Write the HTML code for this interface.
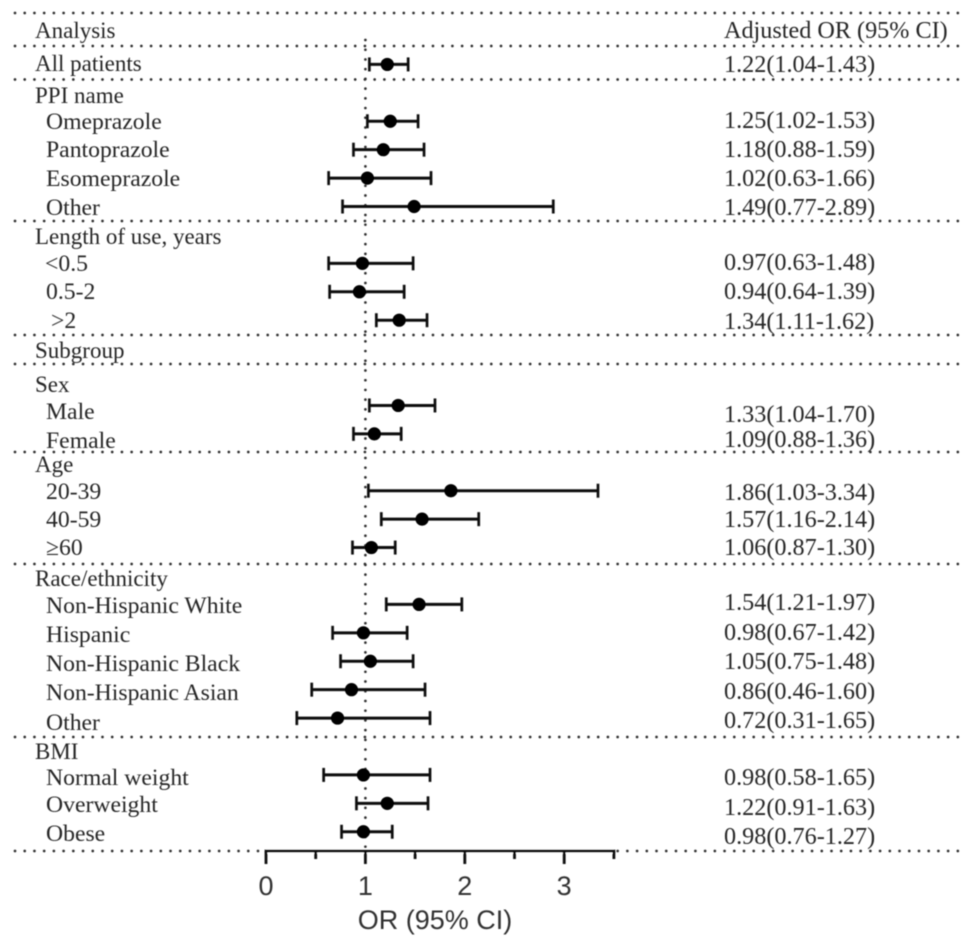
<!DOCTYPE html>
<html>
<head>
<meta charset="utf-8">
<style>
html,body{margin:0;padding:0;background:#fff;width:969px;height:944px;overflow:hidden}
svg{display:block}
.s{font-family:"Liberation Serif",serif;font-size:23.7px;fill:#262626}
text.s[x="35"]{font-size:23px}
.v{font-size:24.2px}
.a{font-family:"Liberation Sans",sans-serif;fill:#333}
.d{stroke:#333;stroke-width:2.7;stroke-linecap:round;stroke-dasharray:0 9.72}
</style>
</head>
<body>
<svg id="chart" width="969" height="944" viewBox="0 0 969 944">
<defs><filter id="soft" x="-5%" y="-5%" width="110%" height="110%"><feGaussianBlur stdDeviation="0.5"/></filter></defs>
<rect width="969" height="944" fill="#fff"/>
<g filter="url(#soft)">
<g id="seps">
<line class="d" x1="15" x2="958" y1="13" y2="13"/>
<line class="d" x1="15" x2="958" y1="46" y2="46"/>
<line class="d" x1="15" x2="958" y1="79.5" y2="79.5"/>
<line class="d" x1="15" x2="958" y1="221" y2="221"/>
<line class="d" x1="15" x2="958" y1="335" y2="335"/>
<line class="d" x1="15" x2="958" y1="364" y2="364"/>
<line class="d" x1="15" x2="958" y1="452" y2="452"/>
<line class="d" x1="15" x2="958" y1="564" y2="564"/>
<line class="d" x1="15" x2="958" y1="737" y2="737"/>
<line class="d" x1="15" x2="958" y1="851" y2="851"/>
</g>
<line id="ref" class="d" y1="40" y2="851"/>
<g id="marks"></g>
<g id="axis"></g>

<g transform="translate(0,1)">
<text class="s" x="35" y="37">Analysis</text>
<text class="s" x="35" y="70">All patients</text>
<text class="s" x="35" y="102">PPI name</text>
<text class="s" x="46" y="128">Omeprazole</text>
<text class="s" x="46" y="156">Pantoprazole</text>
<text class="s" x="46" y="185">Esomeprazole</text>
<text class="s" x="46" y="214">Other</text>
<text class="s" x="35" y="243">Length of use, years</text>
<text class="s" x="45" y="270">&lt;0.5</text>
<text class="s" x="46" y="298">0.5-2</text>
<text class="s" x="51" y="327">&gt;2</text>
<text class="s" x="35" y="357">Subgroup</text>
<text class="s" x="35" y="391">Sex</text>
<text class="s" x="46" y="418">Male</text>
<text class="s" x="46" y="447">Female</text>
<text class="s" x="35" y="471">Age</text>
<text class="s" x="46" y="498">20-39</text>
<text class="s" x="46" y="526">40-59</text>
<text class="s" x="46" y="554">≥60</text>
<text class="s" x="35" y="585">Race/ethnicity</text>
<text class="s" x="46" y="612">Non-Hispanic White</text>
<text class="s" x="46" y="641">Hispanic</text>
<text class="s" x="46" y="670">Non-Hispanic Black</text>
<text class="s" x="46" y="699">Non-Hispanic Asian</text>
<text class="s" x="46" y="729">Other</text>
<text class="s" x="35" y="758">BMI</text>
<text class="s" x="46" y="784">Normal weight</text>
<text class="s" x="46" y="811">Overweight</text>
<text class="s" x="46" y="840">Obese</text>
</g>

<g transform="translate(0,1)">
<text class="s v" x="724" y="37">Adjusted OR (95% CI)</text>
<text class="s v" x="724" y="71">1.22(1.04-1.43)</text>
<text class="s v" x="724" y="127">1.25(1.02-1.53)</text>
<text class="s v" x="724" y="156">1.18(0.88-1.59)</text>
<text class="s v" x="724" y="185">1.02(0.63-1.66)</text>
<text class="s v" x="724" y="214">1.49(0.77-2.89)</text>
<text class="s v" x="724" y="269">0.97(0.63-1.48)</text>
<text class="s v" x="724" y="298">0.94(0.64-1.39)</text>
<text class="s v" x="724" y="328">1.34(1.11-1.62)</text>
<text class="s v" x="724" y="421">1.33(1.04-1.70)</text>
<text class="s v" x="724" y="446">1.09(0.88-1.36)</text>
<text class="s v" x="724" y="499">1.86(1.03-3.34)</text>
<text class="s v" x="724" y="526">1.57(1.16-2.14)</text>
<text class="s v" x="724" y="554">1.06(0.87-1.30)</text>
<text class="s v" x="724" y="609">1.54(1.21-1.97)</text>
<text class="s v" x="724" y="639">0.98(0.67-1.42)</text>
<text class="s v" x="724" y="668">1.05(0.75-1.48)</text>
<text class="s v" x="724" y="698">0.86(0.46-1.60)</text>
<text class="s v" x="724" y="727">0.72(0.31-1.65)</text>
<text class="s v" x="724" y="784">0.98(0.58-1.65)</text>
<text class="s v" x="724" y="814">1.22(0.91-1.63)</text>
<text class="s v" x="724" y="843">0.98(0.76-1.27)</text>
</g>

<text class="a" x="435" y="929" text-anchor="middle" font-size="27">OR (95% CI)</text>
</g>
</svg>
<script>
// One entry per table row, top to bottom; null marks a header row with no estimate.
var oddsRatio = [null,1.22,null,1.25,1.18,1.02,1.49,null,0.97,0.94,1.34,null,null,1.33,1.09,null,1.86,1.57,1.06,null,1.54,0.98,1.05,0.86,0.72,null,0.98,1.22,0.98];
var ciLower   = [null,1.04,null,1.02,0.88,0.63,0.77,null,0.63,0.64,1.11,null,null,1.04,0.88,null,1.03,1.16,0.87,null,1.21,0.67,0.75,0.46,0.31,null,0.58,0.91,0.76];
var ciUpper   = [null,1.43,null,1.53,1.59,1.66,2.89,null,1.48,1.39,1.62,null,null,1.70,1.36,null,3.34,2.14,1.30,null,1.97,1.42,1.48,1.60,1.65,null,1.65,1.63,1.27];
var majorTicks = [0,1,2,3];
var minorTicks = [0.5,1.5,2.5,3.5];
var axisMax = 3.5;
var referenceOR = 1;

var NS = 'http://www.w3.org/2000/svg';
function xScale(v){ return 266 + v * 99.4; }
function yScale(i){ return 36 + i * 28.42; }
function add(parent, tag, attrs){
  var el = document.createElementNS(NS, tag);
  for (var k in attrs) el.setAttribute(k, attrs[k]);
  parent.appendChild(el);
  return el;
}
var marks = document.getElementById('marks');
var axis = document.getElementById('axis');
var ref = document.getElementById('ref');
ref.setAttribute('x1', xScale(referenceOR));
ref.setAttribute('x2', xScale(referenceOR));

oddsRatio.forEach(function(v, i){
  if (v === null) return;
  var y = yScale(i);
  var g = add(marks, 'g', {});
  
  
  var ci = add(g, 'line', {x1: xScale(ciLower[i]), x2: xScale(ciUpper[i]), y1: y, y2: y, stroke: '#111', 'stroke-width': 3});
  
  
  [ciLower[i], ciUpper[i]].forEach(function(c){
    var cap = add(g, 'line', {x1: xScale(c), x2: xScale(c), y1: y - 7, y2: y + 7, stroke: '#111', 'stroke-width': 2.7});
    
    
  });
  var dot = add(g, 'circle', {cx: xScale(v), cy: y, r: 6.6, fill: '#000'});
  
  
});

var axisY = 851;
var axisBg = add(axis, 'line', {x1: xScale(0), x2: xScale(axisMax), y1: axisY, y2: axisY, stroke: '#fff', 'stroke-width': 5});


var axisLine = add(axis, 'line', {x1: xScale(0) - 1.3, x2: xScale(axisMax) + 1.3, y1: axisY, y2: axisY, stroke: '#111', 'stroke-width': 3});


majorTicks.forEach(function(t){
  var tick = add(axis, 'line', {x1: xScale(t), x2: xScale(t), y1: axisY, y2: axisY + 13, stroke: '#111', 'stroke-width': 2.8});
  
  
  var label = add(axis, 'text', {x: xScale(t), y: 895, 'text-anchor': 'middle', 'font-size': 27, 'class': 'a'});
  
  
  label.textContent = t;
});
minorTicks.forEach(function(t){
  var tick = add(axis, 'line', {x1: xScale(t), x2: xScale(t), y1: axisY, y2: axisY + 8, stroke: '#111', 'stroke-width': 2.8});
  
  
});
</script>
</body>
</html>
